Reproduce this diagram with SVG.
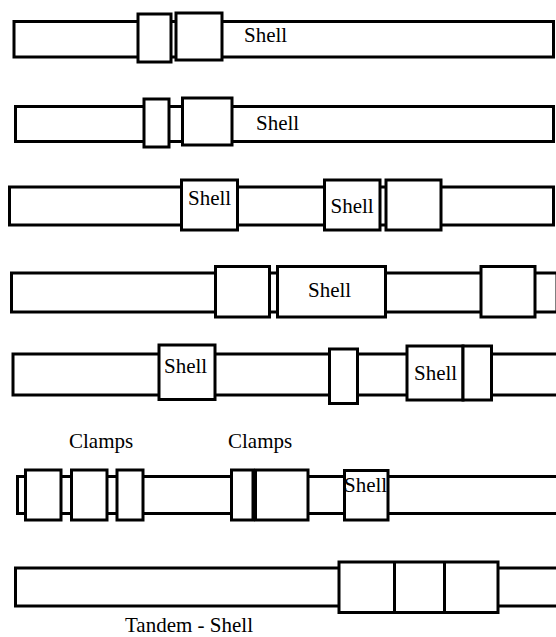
<svg xmlns="http://www.w3.org/2000/svg" width="556" height="637" viewBox="0 0 556 637">
<style>
.b{fill:#fff;stroke:#000;stroke-width:3}
.t{font-family:"Liberation Serif","Times New Roman",serif;font-size:21px;fill:#000}
</style>
<rect width="556" height="637" fill="#fff"/>
<g id="row1">
<rect class="b" x="14" y="21.5" width="539.5" height="35.5"/>
<rect class="b" x="138" y="14" width="33" height="48"/>
<rect class="b" x="176" y="13" width="46" height="47"/>
<text class="t" x="244" y="42">Shell</text>
</g>
<g id="row2">
<rect class="b" x="15.5" y="106.5" width="538" height="35"/>
<rect class="b" x="144" y="99" width="25" height="48"/>
<rect class="b" x="182.5" y="98" width="49.5" height="47"/>
<text class="t" x="256" y="130">Shell</text>
</g>
<g id="row3">
<rect class="b" x="9.5" y="187" width="544" height="38"/>
<rect class="b" x="181.5" y="180" width="56" height="50"/>
<text class="t" x="188" y="205">Shell</text>
<rect class="b" x="324.5" y="180" width="55.5" height="50"/>
<text class="t" x="330.5" y="213">Shell</text>
<rect class="b" x="386" y="180" width="55" height="50"/>
</g>
<g id="row4">
<rect class="b" x="11.5" y="273" width="545.5" height="39"/>
<rect class="b" x="215.5" y="266.5" width="54" height="50.5"/>
<rect class="b" x="277.5" y="266.5" width="108" height="50.5"/>
<text class="t" x="308" y="297">Shell</text>
<rect class="b" x="481" y="266.5" width="54" height="50.5"/>
</g>
<g id="row5">
<rect class="b" x="13" y="354" width="550" height="41"/>
<rect class="b" x="159" y="345" width="56" height="54.5"/>
<text class="t" x="164" y="373">Shell</text>
<rect class="b" x="329.5" y="349" width="28" height="54.5"/>
<rect class="b" x="407" y="346" width="56" height="54"/>
<rect class="b" x="463" y="346" width="28.5" height="54"/>
<text class="t" x="414" y="380">Shell</text>
</g>
<g id="row6">
<text class="t" x="69" y="448">Clamps</text>
<text class="t" x="228" y="448">Clamps</text>
<rect class="b" x="17.5" y="476.5" width="545" height="37"/>
<rect class="b" x="25.5" y="470" width="35.5" height="50"/>
<rect class="b" x="71.5" y="470" width="35.5" height="50"/>
<rect class="b" x="117" y="470" width="26" height="50"/>
<rect class="b" x="231.5" y="470" width="21.5" height="50"/>
<rect class="b" x="255.5" y="470" width="52.5" height="50"/>
<rect class="b" x="344.5" y="470.5" width="43.5" height="49.5"/>
<text class="t" x="344" y="492">Shell</text>
</g>
<g id="row7">
<rect class="b" x="15.5" y="568" width="545" height="38"/>
<rect class="b" x="339" y="562" width="159" height="50.5"/>
<line x1="394.5" y1="562" x2="394.5" y2="612.5" stroke="#000" stroke-width="3"/>
<line x1="444.5" y1="562" x2="444.5" y2="612.5" stroke="#000" stroke-width="3"/>
<text class="t" x="125" y="632">Tandem - Shell</text>
</g>
<g id="connectors"/>
</svg>
